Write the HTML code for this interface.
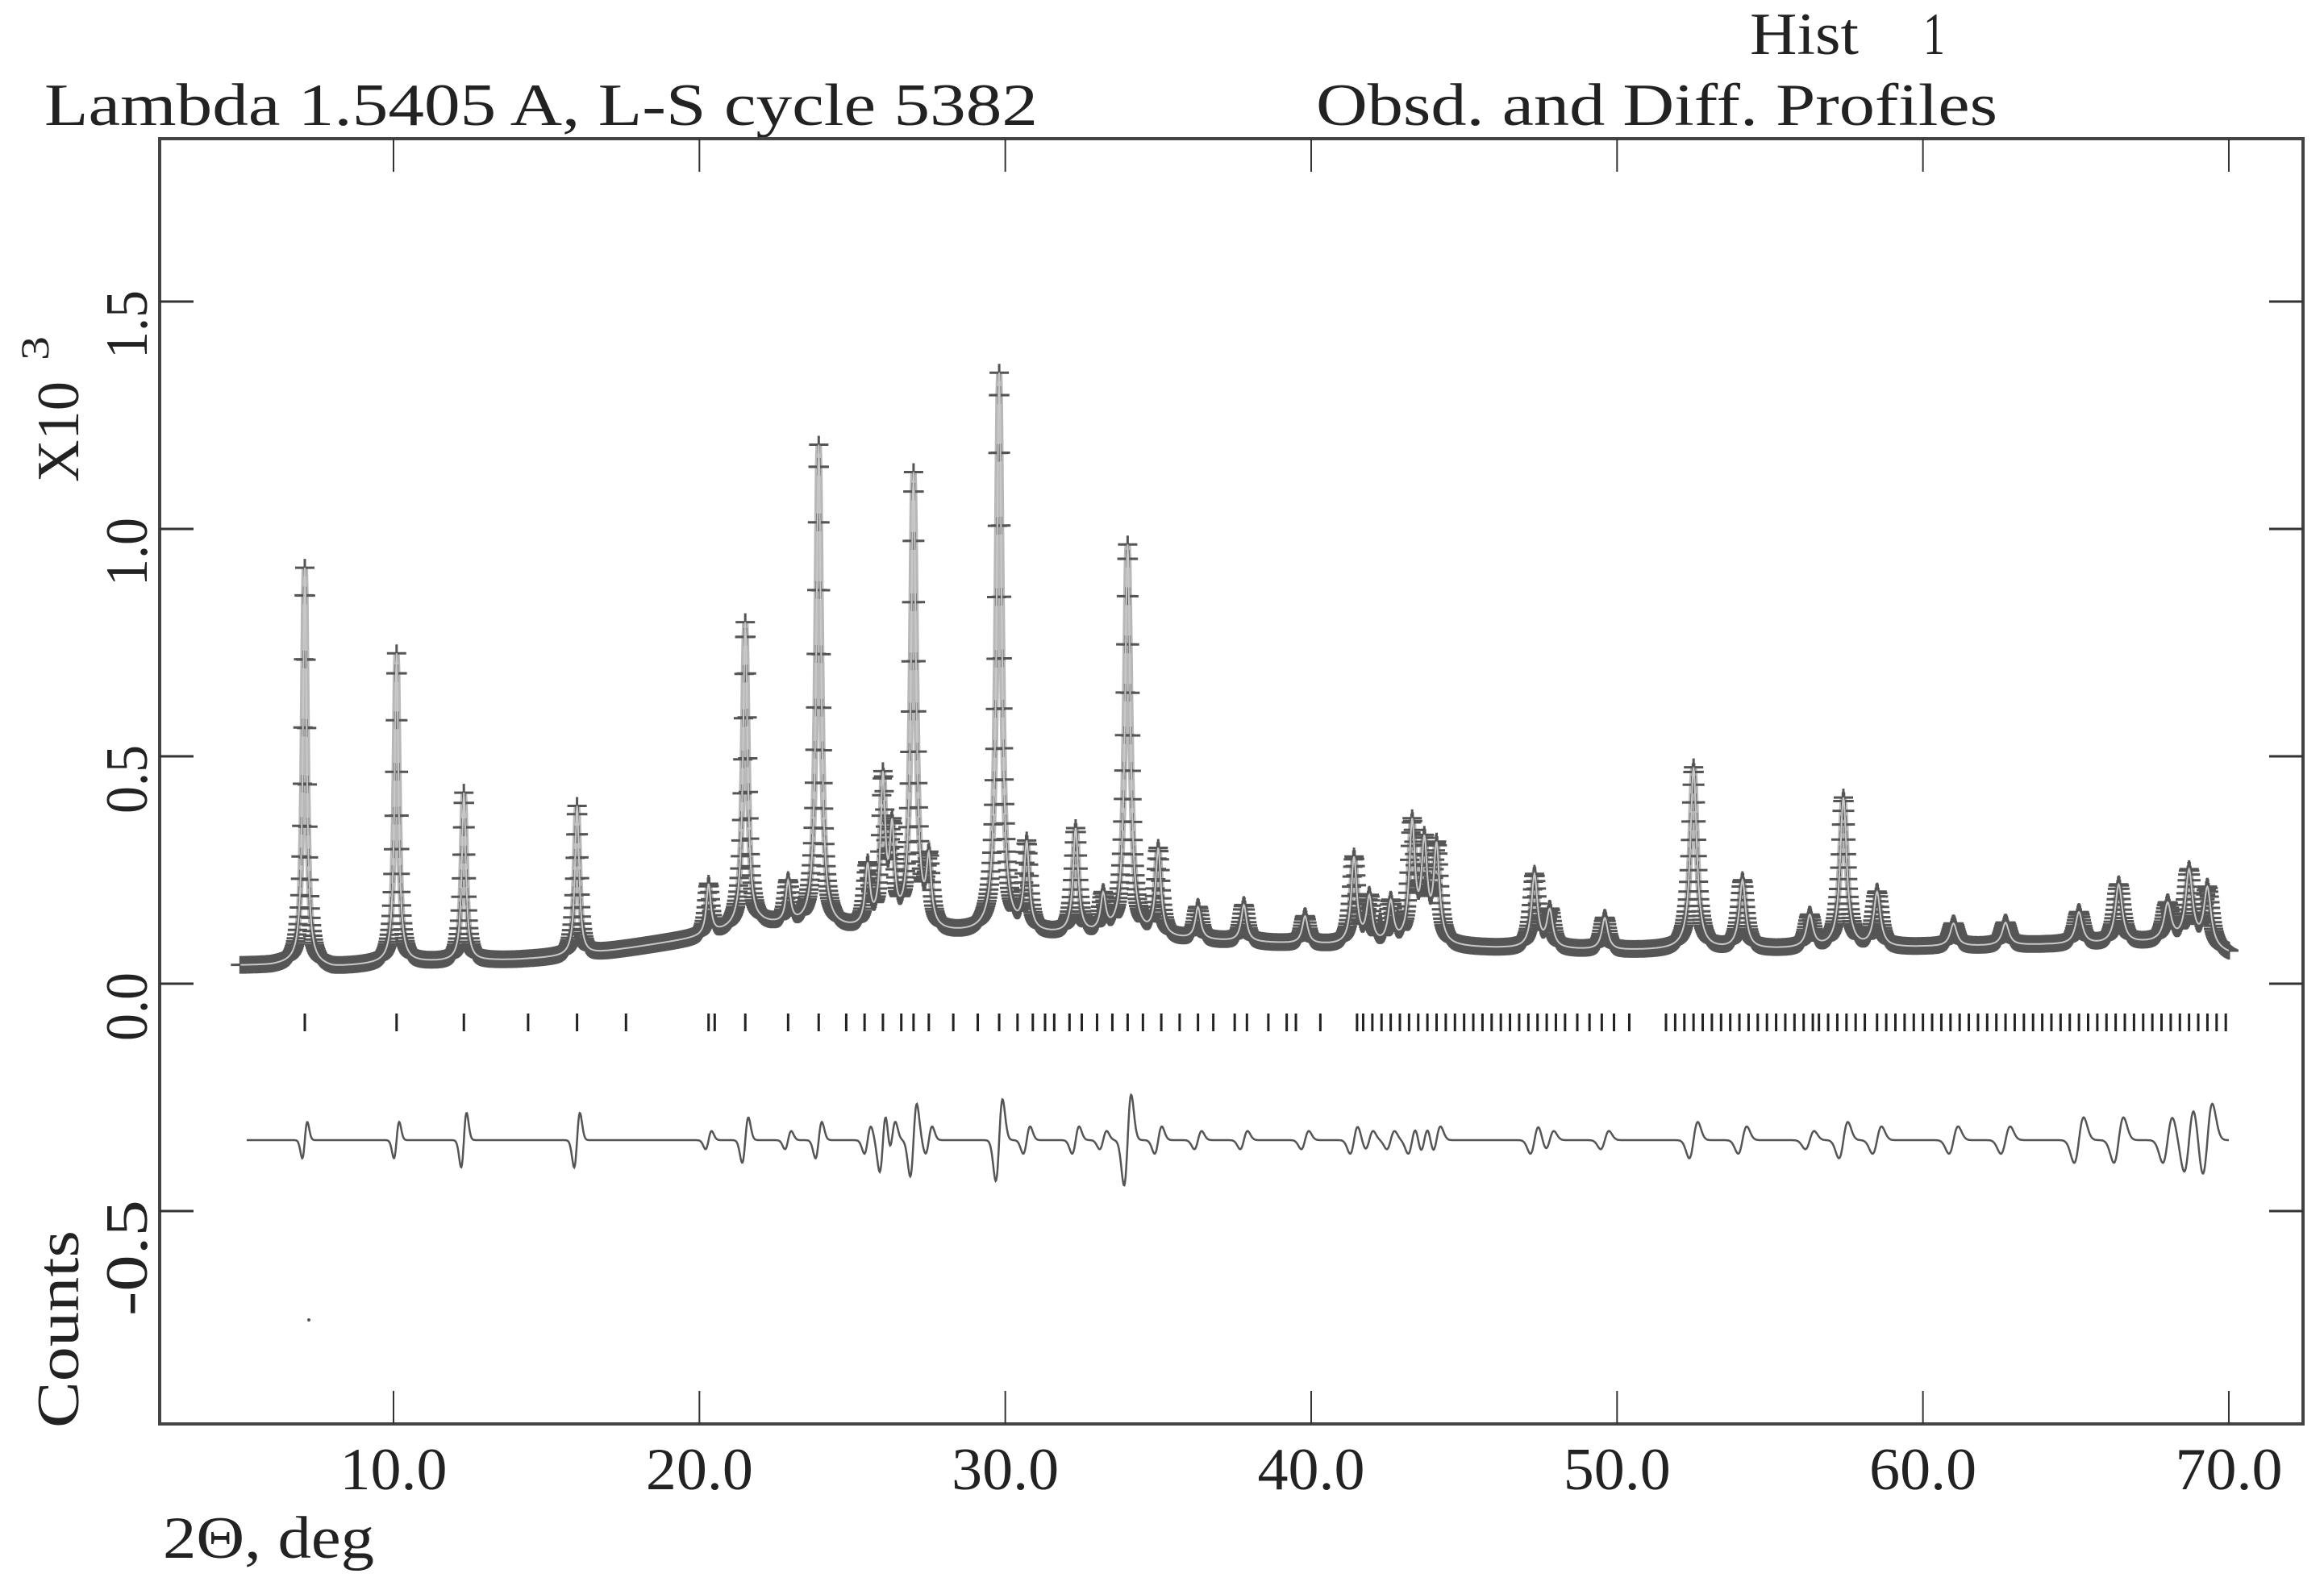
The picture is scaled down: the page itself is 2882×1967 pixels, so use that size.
<!DOCTYPE html>
<html><head><meta charset="utf-8"><style>
html,body{margin:0;padding:0;background:#fff;}
svg{display:block;}
text{font-family:"Liberation Serif",serif;fill:#222;}
</style></head><body>
<svg id="chart" width="2882" height="1967" viewBox="0 0 2882 1967" xmlns="http://www.w3.org/2000/svg">
<rect width="2882" height="1967" fill="#fff"/>
<text x="55" y="155" font-size="74" textLength="1232" lengthAdjust="spacingAndGlyphs">Lambda 1.5405 A, L-S cycle 5382</text>
<text x="1632" y="155" font-size="74" textLength="845" lengthAdjust="spacingAndGlyphs">Obsd. and Diff. Profiles</text>
<text x="2170" y="67" font-size="74" textLength="135" lengthAdjust="spacingAndGlyphs">Hist</text>
<text x="2385" y="67" font-size="74" textLength="27" lengthAdjust="spacingAndGlyphs">1</text>
<text x="202" y="1932" font-size="74" textLength="262" lengthAdjust="spacingAndGlyphs">2Θ, deg</text>
<text transform="translate(97,598) rotate(-90)" font-size="74" textLength="125" lengthAdjust="spacingAndGlyphs">X10</text>
<text transform="translate(60,447) rotate(-90)" font-size="50" textLength="30" lengthAdjust="spacingAndGlyphs">3</text>
<text transform="translate(97,1771) rotate(-90)" font-size="74" textLength="245" lengthAdjust="spacingAndGlyphs">Counts</text>
<g id="plot"></g>
<rect x="198" y="172" width="2658" height="1594" fill="none" stroke="#444" stroke-width="4"/>
<g id="axes"></g>
</svg>
<script>
const xTicks=[10,20,30,40,50,60,70];
const xTickLabels=["10.0","20.0","30.0","40.0","50.0","60.0","70.0"];
const yTicks=[1.5,1.0,0.5,0.0,-0.5];
const yTickLabels=["1.5","1.0","0.5","0.0","-0.5"];
const bgX=[5,6,7,8,9,10,12,14,16,18,20,21,22,24,26,28,30,32,34,36,38,40,42,44,46,48,50,52,54,56,58,60,62,64,66,68,70];
const bgY=[0.04,0.04,0.045,0.035,0.04,0.045,0.048,0.052,0.06,0.08,0.1,0.115,0.128,0.12,0.112,0.108,0.108,0.105,0.1,0.095,0.09,0.085,0.08,0.08,0.077,0.075,0.072,0.074,0.074,0.076,0.076,0.08,0.082,0.085,0.085,0.09,0.065];
const peakPos=[7.1,10.1,12.3,16.0,20.3,21.5,22.9,23.9,25.5,26.0,26.3,27.0,27.5,29.8,30.7,32.3,33.2,34.0,35.0,36.3,37.8,39.8,41.4,41.9,42.6,43.3,43.7,44.1,47.3,47.8,49.6,52.5,54.1,56.3,57.4,58.5,61.0,62.7,65.1,66.4,68.0,68.7,69.3];
const peakHeight=[0.87,0.68,0.37,0.33,0.11,0.67,0.09,1.06,0.13,0.32,0.2,1.0,0.14,1.23,0.19,0.23,0.08,0.86,0.19,0.07,0.08,0.06,0.19,0.1,0.09,0.26,0.21,0.21,0.16,0.08,0.07,0.4,0.15,0.07,0.33,0.12,0.05,0.05,0.07,0.13,0.08,0.16,0.13];
const diffAmp=[0.04,0.04,0.06,0.06,0.02,0.05,0.02,0.04,0.03,0.07,0.04,0.08,0.03,0.09,0.03,0.03,0.02,0.1,0.03,0.02,0.02,0.02,0.03,0.02,0.02,0.03,0.03,0.03,0.03,0.02,0.02,0.04,0.03,0.02,0.04,0.03,0.03,0.03,0.05,0.05,0.05,0.07,0.08];
const reflections=[7.1,10.1,12.3,14.4,16.0,17.6,20.3,20.5,21.5,22.9,23.9,24.8,25.4,26.0,26.6,27.0,27.5,28.3,29.1,29.8,30.4,30.9,31.3,31.6,32.1,32.5,33.0,33.5,34.0,34.5,35.1,35.7,36.3,36.8,37.5,37.9,38.6,39.2,39.5,40.3,41.5,41.7,42.0,42.3,42.6,42.9,43.2,43.5,43.8,44.1,44.4,44.7,45.0,45.3,45.6,45.9,46.2,46.5,46.8,47.1,47.4,47.7,48.0,48.3,48.7,49.1,49.5,49.9,50.4,51.6,51.9,52.2,52.5,52.8,53.1,53.4,53.7,54.0,54.3,54.6,54.9,55.2,55.5,55.8,56.1,56.4,56.6,56.9,57.2,57.5,57.8,58.1,58.5,58.8,59.1,59.4,59.7,60.0,60.3,60.6,60.9,61.2,61.5,61.8,62.1,62.4,62.7,63.0,63.3,63.6,63.9,64.2,64.5,64.8,65.1,65.4,65.7,66.0,66.3,66.6,66.9,67.2,67.5,67.8,68.1,68.4,68.7,69.0,69.3,69.6,69.9];
const diffBase=-0.344;
const xMin=5, xMax=70, step=0.02;

const NS="http://www.w3.org/2000/svg";
function X(v){return 488+(v-10)*37.933;}
function Y(v){return 1220-v*564;}
function bg(x){for(let i=0;i<bgX.length-1;i++){if(x<=bgX[i+1]){const t=(x-bgX[i])/(bgX[i+1]-bgX[i]);return bgY[i]+t*(bgY[i+1]-bgY[i]);}}return bgY[bgY.length-1];}
function width(c){return 0.13+0.0022*c;}
function prof(x){let s=bg(x);for(let i=0;i<peakPos.length;i++){const h=width(peakPos[i])/2;const u=(x-peakPos[i])/h;s+=peakHeight[i]/(1+u*u);}return s;}
function diff(x){let s=diffBase;for(let i=0;i<peakPos.length;i++){const w=width(peakPos[i])*0.8;const u=(x-peakPos[i])/w;if(Math.abs(u)<6)s+=diffAmp[i]*2.33*u*Math.exp(-u*u);}return s;}
function mk(tag,attrs){const e=document.createElementNS(NS,tag);for(const k in attrs)e.setAttribute(k,attrs[k]);return e;}
const plot=document.getElementById('plot');
const axes=document.getElementById('axes');

let dc="",dm="",dd="";
const n=Math.round((xMax-xMin)/step);
for(let i=0;i<=n;i++){const x=xMin+i*step;const px=X(x),py=Y(prof(x));dc+=(i?"L":"M")+px.toFixed(1)+" "+py.toFixed(1);
dm+="M"+(px-12).toFixed(1)+" "+py.toFixed(1)+"h24M"+px.toFixed(1)+" "+(py-11).toFixed(1)+"v22";}
for(let i=0;i<=n;i++){const x=5.2+i*(70-5.2)/n;dd+=(i?"L":"M")+X(x).toFixed(1)+" "+Y(diff(x)).toFixed(1);}
const calc=mk('path',{d:dc,fill:'none',stroke:'#b8b8b8','stroke-width':8});


plot.appendChild(calc);
const obs=mk('path',{d:dm,fill:'none',stroke:'#555','stroke-width':3});


plot.appendChild(obs);
const calc2=mk('path',{d:dc,fill:'none',stroke:'#c8c8c8','stroke-width':2});


plot.appendChild(calc2);
const dif=mk('path',{d:dd,fill:'none',stroke:'#555','stroke-width':2.5});


plot.appendChild(dif);
reflections.forEach(r=>{const t=mk('line',{x1:X(r),x2:X(r),y1:1257,y2:1279,stroke:'#222','stroke-width':3});


plot.appendChild(t);});
const dot=mk('circle',{cx:383,cy:1637,r:2,fill:'#555'});


plot.appendChild(dot);

xTicks.forEach((v,i)=>{const x=X(v);
const a=mk('line',{x1:x,x2:x,y1:172,y2:213,stroke:'#333','stroke-width':2});


axes.appendChild(a);
const b=mk('line',{x1:x,x2:x,y1:1725,y2:1766,stroke:'#333','stroke-width':2});


axes.appendChild(b);
const t=mk('text',{x:x,y:1847,'font-size':74,'text-anchor':'middle',textLength:133,lengthAdjust:'spacingAndGlyphs'});
t.textContent=xTickLabels[i];


axes.appendChild(t);});
yTicks.forEach((v,i)=>{const y=Y(v);
const a=mk('line',{x1:198,x2:240,y1:y,y2:y,stroke:'#333','stroke-width':3});


axes.appendChild(a);
const b=mk('line',{x1:2814,x2:2856,y1:y,y2:y,stroke:'#333','stroke-width':3});


axes.appendChild(b);
const lab=yTickLabels[i];
const t=mk('text',{transform:'translate(182,'+(y-14)+') rotate(-90)','font-size':74,'text-anchor':'end',textLength:lab.length>3?144:85,lengthAdjust:'spacingAndGlyphs'});
t.textContent=lab;


axes.appendChild(t);});
</script>
</body></html>
